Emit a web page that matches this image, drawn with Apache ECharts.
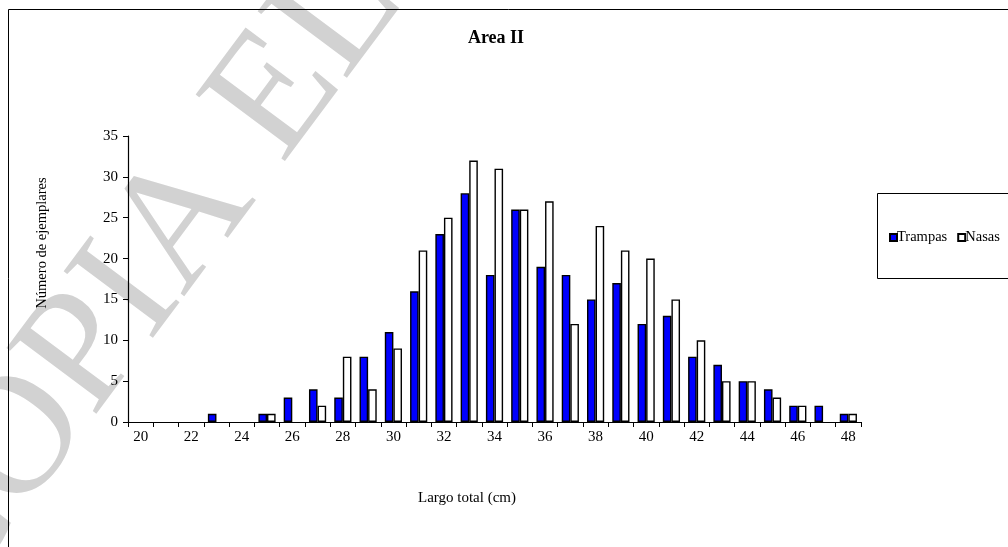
<!DOCTYPE html>
<html>
<head>
<meta charset="utf-8">
<script src="https://cdn.jsdelivr.net/npm/echarts@6/dist/echarts.min.js"></script>
<style>
  html, body { margin: 0; padding: 0; background: #fff; }
  #chart { width: 1008px; height: 547px; }
</style>
</head>
<body>
<div id="chart"></div>
<script>
// Length classes (cm)
const lengths = [20, 21, 22, 23, 24, 25, 26, 27, 28, 29, 30, 31, 32, 33, 34,
                 35, 36, 37, 38, 39, 40, 41, 42, 43, 44, 45, 46, 47, 48];
// Specimen counts per gear
const trampas = [0, 0, 0, 1, 0, 1, 3, 4, 3, 8, 11, 16, 23, 28, 18,
                 26, 19, 18, 15, 17, 12, 13, 8, 7, 5, 4, 2, 2, 1];
const nasas   = [0, 0, 0, 0, 0, 1, 0, 2, 8, 4, 9, 21, 25, 32, 31,
                 26, 27, 12, 24, 21, 20, 15, 10, 5, 5, 3, 2, 0, 1];
const yTicks = [0, 5, 10, 15, 20, 25, 30, 35];

// empty classes draw no bar at all
const asBars = arr => arr.map(v => (v === 0 ? null : v));

const serif = '"Liberation Serif", "DejaVu Serif", serif';
const chart = echarts.init(document.getElementById('chart'), null, { renderer: 'canvas' });

chart.setOption({
  animation: false,
  backgroundColor: '#fff',
  textStyle: { fontFamily: serif, color: '#000' },
  grid: { left: 128, right: 147, top: 136, bottom: 125, containLabel: false },
  title: {
    text: 'Area II',
    left: 491, top: 24, textAlign: 'center',
    textStyle: { fontFamily: serif, fontWeight: 'bold', fontSize: 18, color: '#000' }
  },
  legend: {
    left: 889, top: 230, padding: 0, width: 119,
    orient: 'horizontal',
    itemWidth: 7, itemHeight: 7, itemGap: 10,
    icon: 'rect',
    textStyle: { fontFamily: serif, fontSize: 14.5, color: '#000', padding: [0, 0, 0, -5] },
    data: ['Trampas', 'Nasas']
  },
  xAxis: {
    type: 'category',
    data: lengths,
    boundaryGap: true,
    axisLine: { lineStyle: { color: '#000', width: 1.2 } },
    axisTick: { show: true, interval: 0, alignWithLabel: false, length: 5, lineStyle: { color: '#000' } },
    axisLabel: { interval: 1, color: '#000', fontFamily: serif, fontSize: 15, margin: 8 },
    splitLine: { show: false }
  },
  yAxis: {
    type: 'value',
    min: yTicks[0], max: yTicks[yTicks.length - 1], interval: 5,
    axisLine: { show: true, lineStyle: { color: '#000', width: 1.2 } },
    axisTick: { show: true, length: 5, lineStyle: { color: '#000' } },
    axisLabel: { color: '#000', fontFamily: serif, fontSize: 15, margin: 10 },
    splitLine: { show: false }
  },
  series: [
    {
      name: 'Trampas', type: 'bar', data: asBars(trampas),
      barGap: '0%', barCategoryGap: '32%',
      itemStyle: { color: '#0000ff', borderColor: '#000', borderWidth: 1.4 }
    },
    {
      name: 'Nasas', type: 'bar', data: asBars(nasas),
      itemStyle: { color: '#ffffff', borderColor: '#000', borderWidth: 1.4 }
    }
  ],
  graphic: [
    // diagonal watermark behind the plot
    {
      type: 'text', z: -10, silent: true,
      x: -16, y: 632, rotation: 0.93,
      style: {
        text: 'COPIA ELECTRÓNICA',
        fill: '#d2d2d2',
        font: '170px "Liberation Serif"',
        textAlign: 'left', textVerticalAlign: 'bottom'
      }
    },
    // outer chart frame
    {
      type: 'rect', z: 5, silent: true,
      shape: { x: 8.5, y: 9.5, width: 1020, height: 560 },
      style: { fill: 'none', stroke: '#000', lineWidth: 1 }
    },
    // legend frame
    {
      type: 'rect', z: 5, silent: true,
      shape: { x: 877.5, y: 193.5, width: 150, height: 85 },
      style: { fill: 'none', stroke: '#000', lineWidth: 1 }
    },
    {
      type: 'text', silent: true,
      x: 42, y: 243, rotation: Math.PI / 2,
      style: {
        text: 'Número de ejemplares', fill: '#000',
        font: '14.5px "Liberation Serif"', textAlign: 'center', textVerticalAlign: 'middle'
      }
    },
    {
      type: 'text', silent: true,
      x: 467, y: 498,
      style: {
        text: 'Largo total (cm)', fill: '#000',
        font: '15px "Liberation Serif"', textAlign: 'center', textVerticalAlign: 'middle'
      }
    }
  ]
});
</script>
</body>
</html>
